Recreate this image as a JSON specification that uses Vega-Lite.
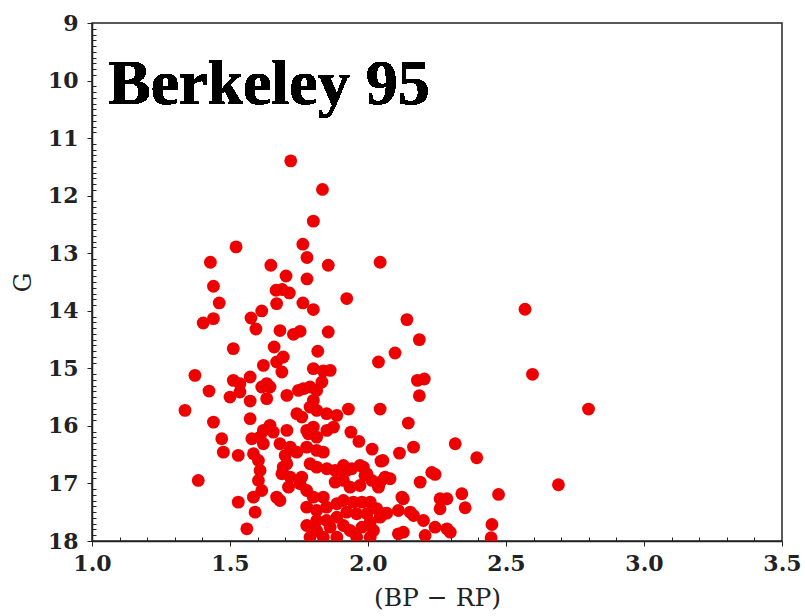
{
  "$schema": "https://vega.github.io/schema/vega-lite/v6.json",
  "width": 690,
  "height": 518,
  "autosize": {"type": "none"},
  "padding": {"left": 92, "top": 23, "right": 23, "bottom": 75},
  "background": "white",
  "config": {
    "view": {"stroke": "#222", "strokeWidth": 1.5},
    "axis": {
      "grid": false,
      "domainColor": "#222",
      "domainWidth": 1.5,
      "tickColor": "#222",
      "labelFont": "DejaVu Serif",
      "labelFontWeight": "bold",
      "labelFontSize": 22,
      "labelColor": "#222",
      "titleFont": "DejaVu Serif",
      "titleFontWeight": "normal",
      "titleFontSize": 25,
      "titleColor": "#222"
    }
  },
  "data": {
    "values": [
      {"bp":1.720,"g":11.395},{"bp":1.835,"g":11.892},{"bp":1.802,"g":12.443},{"bp":1.522,"g":12.890},
      {"bp":1.764,"g":12.843},{"bp":1.779,"g":13.075},{"bp":1.429,"g":13.157},{"bp":1.648,"g":13.209},
      {"bp":1.856,"g":13.209},{"bp":2.044,"g":13.157},{"bp":1.703,"g":13.395},{"bp":1.779,"g":13.447},
      {"bp":1.440,"g":13.574},{"bp":1.667,"g":13.643},{"bp":1.689,"g":13.631},{"bp":1.715,"g":13.690},
      {"bp":1.461,"g":13.864},{"bp":1.669,"g":13.875},{"bp":1.764,"g":13.864},{"bp":1.802,"g":13.979},
      {"bp":1.923,"g":13.788},{"bp":1.615,"g":14.003},{"bp":1.576,"g":14.125},{"bp":1.440,"g":14.136},
      {"bp":1.403,"g":14.212},{"bp":1.594,"g":14.317},{"bp":1.681,"g":14.344},{"bp":1.730,"g":14.409},
      {"bp":1.754,"g":14.357},{"bp":1.856,"g":14.369},{"bp":2.569,"g":13.974},{"bp":2.141,"g":14.153},
      {"bp":2.186,"g":14.501},{"bp":2.098,"g":14.734},{"bp":2.038,"g":14.890},{"bp":1.863,"g":15.035},
      {"bp":2.179,"g":15.209},{"bp":2.204,"g":15.186},{"bp":2.186,"g":15.475},{"bp":2.596,"g":15.104},
      {"bp":2.044,"g":15.708},{"bp":1.929,"g":15.708},{"bp":2.146,"g":15.951},{"bp":2.799,"g":15.708},
      {"bp":1.938,"g":16.108},{"bp":1.967,"g":16.270},{"bp":2.316,"g":16.310},{"bp":2.165,"g":16.369},
      {"bp":2.114,"g":16.473},{"bp":2.015,"g":16.403},{"bp":2.394,"g":16.553},{"bp":2.047,"g":16.612},
      {"bp":2.231,"g":16.809},{"bp":2.243,"g":16.843},{"bp":2.189,"g":16.977},{"bp":2.690,"g":17.023},
      {"bp":2.340,"g":17.179},{"bp":2.473,"g":17.191},{"bp":2.261,"g":17.266},{"bp":2.286,"g":17.266},
      {"bp":2.261,"g":17.440},{"bp":2.352,"g":17.423},{"bp":2.449,"g":17.713},{"bp":2.446,"g":17.944},
      {"bp":2.128,"g":17.266},{"bp":2.062,"g":16.890},{"bp":2.080,"g":16.918},{"bp":2.038,"g":17.064},
      {"bp":1.989,"g":16.861},{"bp":1.983,"g":16.717},{"bp":1.923,"g":16.774},{"bp":1.899,"g":16.774},
      {"bp":2.054,"g":16.600},{"bp":2.044,"g":16.977},{"bp":2.123,"g":17.238},{"bp":2.068,"g":17.517},
      {"bp":2.110,"g":17.470},{"bp":2.153,"g":17.499},{"bp":2.165,"g":17.557},{"bp":2.201,"g":17.643},
      {"bp":2.243,"g":17.760},{"bp":2.286,"g":17.788},{"bp":2.298,"g":17.847},{"bp":2.110,"g":17.875},
      {"bp":2.128,"g":17.847},{"bp":2.207,"g":17.904},{"bp":2.044,"g":17.586},{"bp":1.512,"g":14.657},
      {"bp":1.660,"g":14.630},{"bp":1.693,"g":14.803},{"bp":1.818,"g":14.704},{"bp":1.621,"g":14.948},
      {"bp":1.669,"g":14.890},{"bp":1.688,"g":15.064},{"bp":1.802,"g":15.005},{"bp":1.838,"g":15.047},
      {"bp":1.373,"g":15.122},{"bp":1.512,"g":15.209},{"bp":1.573,"g":15.151},{"bp":1.536,"g":15.266},
      {"bp":1.633,"g":15.266},{"bp":1.645,"g":15.325},{"bp":1.615,"g":15.325},{"bp":1.833,"g":15.238},
      {"bp":1.424,"g":15.395},{"bp":1.500,"g":15.499},{"bp":1.536,"g":15.412},{"bp":1.573,"g":15.569},
      {"bp":1.633,"g":15.527},{"bp":1.706,"g":15.470},{"bp":1.766,"g":15.353},{"bp":1.790,"g":15.325},
      {"bp":1.814,"g":15.383},{"bp":1.748,"g":15.383},{"bp":1.802,"g":15.557},{"bp":1.790,"g":15.673},
      {"bp":1.337,"g":15.730},{"bp":1.573,"g":15.875},{"bp":1.440,"g":15.934},{"bp":1.742,"g":15.788},
      {"bp":1.760,"g":15.847},{"bp":1.814,"g":15.730},{"bp":1.850,"g":15.788},{"bp":1.887,"g":15.817},
      {"bp":1.621,"g":16.078},{"bp":1.645,"g":15.991},{"bp":1.706,"g":16.078},{"bp":1.609,"g":16.195},
      {"bp":1.778,"g":16.078},{"bp":1.802,"g":16.021},{"bp":1.851,"g":16.078},{"bp":1.875,"g":16.021},
      {"bp":1.470,"g":16.223},{"bp":1.579,"g":16.223},{"bp":1.476,"g":16.456},{"bp":1.530,"g":16.513},
      {"bp":1.585,"g":16.483},{"bp":1.621,"g":16.310},{"bp":1.657,"g":16.108},{"bp":1.681,"g":16.310},
      {"bp":1.718,"g":16.369},{"bp":1.742,"g":16.456},{"bp":1.700,"g":16.513},{"bp":1.784,"g":16.136},
      {"bp":1.814,"g":16.195},{"bp":1.778,"g":16.369},{"bp":1.814,"g":16.426},{"bp":1.838,"g":16.456},
      {"bp":1.603,"g":16.600},{"bp":1.609,"g":16.774},{"bp":1.603,"g":16.948},{"bp":1.385,"g":16.948},
      {"bp":1.693,"g":16.717},{"bp":1.706,"g":16.657},{"bp":1.688,"g":16.831},{"bp":1.718,"g":16.890},
      {"bp":1.760,"g":16.890},{"bp":1.712,"g":17.064},{"bp":1.754,"g":17.005},{"bp":1.790,"g":16.657},
      {"bp":1.814,"g":16.717},{"bp":1.851,"g":16.745},{"bp":1.881,"g":16.774},{"bp":1.911,"g":16.687},
      {"bp":1.941,"g":16.745},{"bp":1.971,"g":16.687},{"bp":1.996,"g":16.831},{"bp":1.911,"g":16.948},
      {"bp":1.881,"g":16.977},{"bp":1.935,"g":17.064},{"bp":1.971,"g":17.035},{"bp":2.014,"g":16.948},
      {"bp":1.615,"g":17.122},{"bp":1.585,"g":17.238},{"bp":1.669,"g":17.238},{"bp":1.681,"g":17.296},
      {"bp":1.530,"g":17.325},{"bp":1.591,"g":17.499},{"bp":1.561,"g":17.788},{"bp":1.778,"g":17.122},
      {"bp":1.802,"g":17.238},{"bp":1.838,"g":17.238},{"bp":1.814,"g":17.470},{"bp":1.778,"g":17.412},
      {"bp":1.850,"g":17.412},{"bp":1.887,"g":17.353},{"bp":1.911,"g":17.296},{"bp":1.947,"g":17.325},
      {"bp":1.978,"g":17.325},{"bp":2.008,"g":17.325},{"bp":2.032,"g":17.440},{"bp":1.996,"g":17.527},
      {"bp":1.959,"g":17.527},{"bp":1.923,"g":17.499},{"bp":1.887,"g":17.586},{"bp":1.850,"g":17.643},
      {"bp":1.814,"g":17.643},{"bp":1.778,"g":17.730},{"bp":1.814,"g":17.817},{"bp":1.863,"g":17.760},
      {"bp":1.911,"g":17.730},{"bp":1.935,"g":17.817},{"bp":1.978,"g":17.760},{"bp":2.008,"g":17.673},
      {"bp":2.020,"g":17.817},{"bp":2.056,"g":17.527},{"bp":1.790,"g":17.934},{"bp":1.838,"g":17.934},
      {"bp":1.887,"g":17.934},{"bp":1.959,"g":17.934},{"bp":2.008,"g":17.934}
    ]
  },
  "layer": [
    {
      "mark": {"type": "circle", "color": "#ee0000", "opacity": 1, "size": 165, "clip": true},
      "encoding": {
        "x": {
          "field": "bp", "type": "quantitative", "title": "(BP − RP)",
          "scale": {"domain": [1.0, 3.5], "nice": false, "zero": false},
          "axis": {
            "values": [1.0,1.1,1.2,1.3,1.4,1.5,1.6,1.7,1.8,1.9,2.0,2.1,2.2,2.3,2.4,2.5,2.6,2.7,2.8,2.9,3.0,3.1,3.2,3.3,3.4,3.5],
            "tickCount": 500,
            "labelExpr": "abs(datum.value*2 - round(datum.value*2)) < 0.001 ? format(datum.value, '.1f') : ''",
            "tickSize": {"condition": {"test": "abs(datum.value*2 - round(datum.value*2)) < 0.001", "value": 5}, "value": -4},
            "labelOverlap": false,
            "labelBound": false,
            "labelFlush": false,
            "labelSeparation": 0,
            "labelPadding": 7,
            "titlePadding": 11
          }
        },
        "y": {
          "field": "g", "type": "quantitative", "title": "G",
          "scale": {"domain": [9, 18], "nice": false, "zero": false, "reverse": true},
          "axis": {
            "values": [9,9.1,9.2,9.3,9.4,9.5,9.6,9.7,9.8,9.9,10,10.1,10.2,10.3,10.4,10.5,10.6,10.7,10.8,10.9,11,11.1,11.2,11.3,11.4,11.5,11.6,11.7,11.8,11.9,12,12.1,12.2,12.3,12.4,12.5,12.6,12.7,12.8,12.9,13,13.1,13.2,13.3,13.4,13.5,13.6,13.7,13.8,13.9,14,14.1,14.2,14.3,14.4,14.5,14.6,14.7,14.8,14.9,15,15.1,15.2,15.3,15.4,15.5,15.6,15.7,15.8,15.9,16,16.1,16.2,16.3,16.4,16.5,16.6,16.7,16.8,16.9,17,17.1,17.2,17.3,17.4,17.5,17.6,17.7,17.8,17.9,18],
            "tickCount": 500,
            "labelExpr": "abs(datum.value - round(datum.value)) < 0.001 ? format(datum.value, 'd') : ''",
            "tickSize": {"condition": {"test": "abs(datum.value - round(datum.value)) < 0.001", "value": 5}, "value": -4},
            "labelOverlap": false,
            "labelBound": false,
            "labelFlush": false,
            "labelSeparation": 0,
            "labelPadding": 9,
            "titlePadding": 12
          }
        }
      }
    },
    {
      "mark": {"type": "text", "font": "Liberation Serif", "fontWeight": "bold", "fontSize": 64, "align": "left", "baseline": "alphabetic", "color": "black"},
      "encoding": {
        "x": {"datum": 1.058, "type": "quantitative"},
        "y": {"datum": 10.41, "type": "quantitative"},
        "text": {"value": "Berkeley 95"}
      }
    }
  ]
}
